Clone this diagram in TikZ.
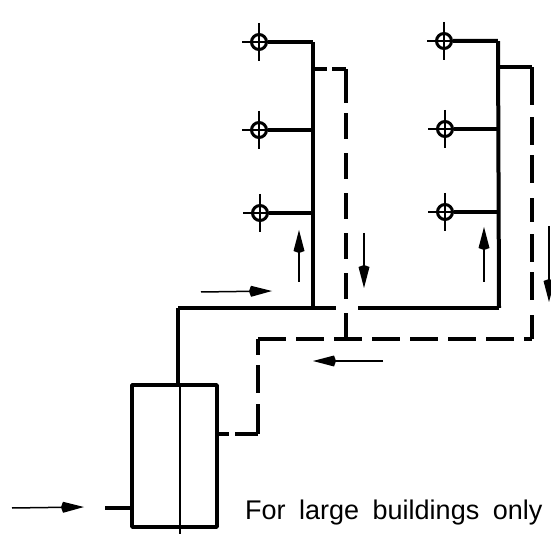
\documentclass[tikz,border=0pt]{standalone}
\usepackage{fontspec}
\setmainfont[WordSpace=1.8]{Liberation Sans}
\usetikzlibrary{arrows.meta,positioning}

\tikzset{
  pipe/.style={line width=3.6pt, line join=round},
  riser/.style={line width=4pt, line join=round},
  return/.style={line width=4pt, line join=round, dash pattern=on 28pt off 10pt},
  thin pipe/.style={line width=1.5pt},
  valve/.style={circle, draw, line width=3pt, minimum size=15pt, inner sep=0pt},
  flow/.style={line width=1.5pt, -{Kite[length=23pt,width=11pt,inset=2pt]}},
  junction/.style={inner sep=0pt, minimum size=0pt}
}

\begin{document}
\begin{tikzpicture}[x=1pt, y=-1pt]
	\useasboundingbox (0,0) rectangle (551,534);

	% fixtures on the two risers
	\foreach \name/\xpos/\ypos in {a/259/42, b/259/130, c/260/213, d/444/41, e/445/129, f/445/212} {
		\node[valve] (\name) at (\xpos,\ypos) {};
		\draw[thin pipe] (\xpos-17,\ypos) -- (\xpos+7,\ypos);
		\draw[thin pipe] (\xpos,\ypos-19) -- (\xpos,\ypos+19);
	}

	\node[junction] (T1) at (313,42) {};
	\node[junction] (T2) at (498,41) {};
	\node[junction] (S1) at (313,308) {};
	\node[junction] (S2) at (499,308) {};
	\node[junction] (S0) at (178,308) {};
	\node[junction] (Gl) at (336,308) {};
	\node[junction] (Gr) at (358,308) {};

	\node[draw, pipe, minimum width=85pt, minimum height=142pt, inner sep=0pt] (tank) at (174.5,456) {};
	\node[junction] (tankin) at (105,508) {};
	\node[junction] (Vt) at (180,385) {};
	\node[junction] (Vb) at (180,534) {};

	% supply side
	\draw[riser] (a) -- (T1) -- (S1);
	\draw[riser] (b) -- (313,130);
	\draw[riser] (c) -- (313,213);
	\draw[riser] (d) -- (T2) -- (S2);
	\draw[riser] (e) -- (498,129);
	\draw[riser] (f) -- (498,212);
	\draw[pipe] (tank.north -| S0) -- (S0) -- (Gl);
	\draw[pipe] (Gr) -- (S2);
	\draw[pipe] (tankin) -- (tankin -| tank.west);
	\draw[thin pipe] (Vt) -- (Vb);

	% return side
	\node[junction] (R0) at (217,434) {};
	\node[junction] (R0a) at (229,434) {};
	\node[junction] (R0b) at (235,434) {};
	\node[junction] (R1) at (258,434) {};
	\node[junction] (R1a) at (258,404) {};
	\node[junction] (R1b) at (258,393) {};
	\node[junction] (R2) at (258,339) {};
	\node[junction] (R3) at (532,339) {};
	\node[junction] (R4) at (532,67) {};
	\node[junction] (R4a) at (532,102) {};
	\node[junction] (R5) at (498,67) {};
	\node[junction] (R6) at (346,339) {};
	\node[junction] (R7) at (346,69) {};
	\node[junction] (R7a) at (346,103) {};
	\node[junction] (R8) at (313,69) {};
	\node[junction] (R8a) at (327,69) {};
	\node[junction] (R8b) at (332,69) {};
	\draw[riser] (R0) -- (R0a);
	\draw[riser] (R0b) -- (R1) -- (R1a);
	\draw[return] (R1b) -- (R2) -- (R3);
	\draw[return, dash pattern=on 24pt off 15pt on 28pt off 10pt on 28pt off 12pt] (R3) -- (R4a);
	\draw[riser] (R5) -- (R4) -- (R4a);
	\draw[return, dash pattern=on 26pt off 14pt] (R6) -- (R7a);
	\draw[riser] (R8) -- (R8a);
	\draw[riser] (R8b) -- (R7) -- (R7a);

	% flow arrows
	\coordinate (u1) at (299,282);
	\coordinate (u1e) at (299,230);
	\coordinate (u2) at (484,282);
	\coordinate (u2e) at (484,227);
	\coordinate (d1) at (364,233);
	\coordinate (d1e) at (364,288);
	\coordinate (d2) at (549,226);
	\coordinate (d2e) at (549,302);
	\coordinate (h1) at (201,292);
	\coordinate (h1e) at (272,291);
	\coordinate (h2) at (383,361);
	\coordinate (h2e) at (313,361);
	\coordinate (h3) at (12,508);
	\coordinate (h3e) at (84,507);
	\foreach \from/\to in {u1/u1e, u2/u2e, d1/d1e, d2/d2e, h1/h1e, h2/h2e, h3/h3e}
		\draw[flow] (\from) -- (\to);

	\node[anchor=base west, inner sep=0pt, font=\fontsize{27}{27}\selectfont] (note) at (245,519) {For large buildings only};
\end{tikzpicture}
\end{document}
